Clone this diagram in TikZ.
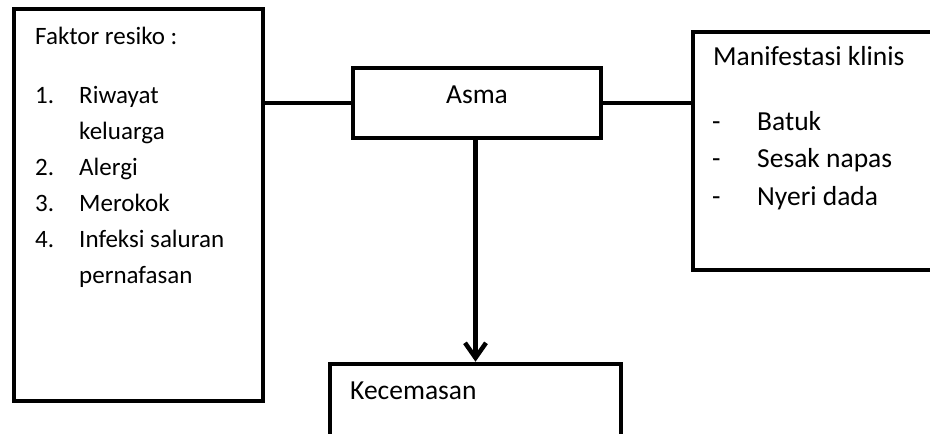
\documentclass[tikz,border=0pt]{standalone}
\usepackage{fontspec}
\setmainfont{Carlito}
\usetikzlibrary{arrows.meta}
\tikzset{
  box/.style={draw=black, line width=4.5pt, inner sep=0pt, fill=white},
  conn/.style={draw=black, line width=4.5pt},
  ltxt/.style={anchor=base west, inner sep=0pt, font=\fontsize{25}{30}\selectfont},
  rtxt/.style={anchor=base west, inner sep=0pt, font=\fontsize{27.5}{32}\selectfont}
}
\begin{document}
\begin{tikzpicture}[x=1pt,y=-1pt]
\useasboundingbox (0,0) rectangle (930,434);
\clip (0,0) rectangle (930,434);
% boxes
\node[box, minimum width=249pt, minimum height=392pt] (fak) at (138.5,205) {};
\node[box, minimum width=248pt, minimum height=70pt] (asma) at (477,103) {};
\node[box, minimum width=247pt, minimum height=238pt] (man) at (816.5,151) {};
\node[box, minimum width=291pt, minimum height=76pt] (kec) at (475.5,402) {};
% connectors
\draw[conn] (asma.west) -- (asma.west -| fak.east);
\draw[conn] (asma.east) -- (asma.east -| man.west);
\draw[conn, -{Straight Barb[length=15pt,width=21pt]}] (kec.north |- asma.south) -- (kec.north);
% left texts
\node[ltxt] (f0) at (35,44) {Faktor resiko :};
\node[ltxt] (f1n) at (35,103) {1.};
\node[ltxt] (f1) at (79,103) {Riwayat};
\node[ltxt] (f1b) at (79,139) {keluarga};
\node[ltxt] (f2n) at (35,175) {2.};
\node[ltxt] (f2) at (79,175) {Alergi};
\node[ltxt] (f3n) at (35,211) {3.};
\node[ltxt] (f3) at (79,211) {Merokok};
\node[ltxt] (f4n) at (35,247) {4.};
\node[ltxt] (f4) at (79,247) {Infeksi saluran};
\node[ltxt] (f4b) at (79,283) {pernafasan};
% asma
\node[rtxt, anchor=base] (at) at (477,103) {Asma};
% kecemasan
\node[rtxt] (kt) at (350,399) {Kecemasan};
% manifestasi
\node[rtxt] (m0) at (713,65) {Manifestasi klinis};
\node[rtxt] (m1d) at (712,130) {-};
\node[rtxt] (m1) at (757,130) {Batuk};
\node[rtxt] (m2d) at (712,167) {-};
\node[rtxt] (m2) at (757,167) {Sesak napas};
\node[rtxt] (m3d) at (712,205) {-};
\node[rtxt] (m3) at (757,205) {Nyeri dada};
\end{tikzpicture}
\end{document}
